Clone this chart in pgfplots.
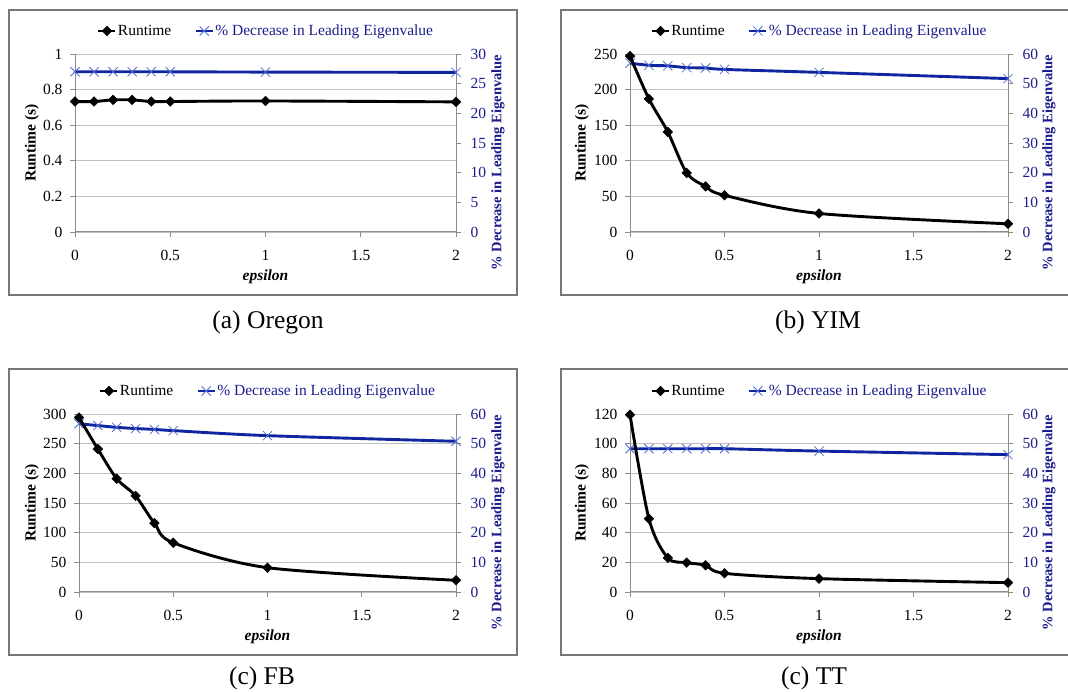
\documentclass[border=0pt]{standalone}
\usepackage{pgfplots}
\pgfplotsset{compat=1.18}
\usepackage{fontspec}
\setmainfont{Liberation Serif}
\definecolor{lineblue}{RGB}{16,38,160}
\definecolor{navy}{RGB}{28,28,140}
\definecolor{markblue}{RGB}{80,110,210}
\definecolor{gridgray}{RGB}{192,192,192}
\definecolor{axisgray}{RGB}{140,140,140}
\definecolor{framegray}{RGB}{120,120,120}
\newcommand{\fs}{\fontsize{15.5}{17}\selectfont}
\pgfplotsset{
  panel/.style={scale only axis, width=#1, height=178pt, xmin=0, xmax=2, clip=false,
    tick align=outside, major tick length=5pt,
    every tick/.style={axisgray, line width=0.8pt},
    axis line style={axisgray, line width=1pt},
    ticklabel style={font=\fs},
    /pgf/number format/assume math mode=true},
  leftax/.style={axis x line*=bottom, axis y line*=left, ymajorgrids,
    grid style={gridgray, line width=0.9pt},
    xtick={0,0.5,1,1.5,2}, ymin=0,
    xticklabel style={yshift=-10pt},
    yticklabel style={xshift=-4pt},
    xlabel={\textbf{\textit{epsilon}}},
    xlabel style={at={(axis description cs:0.5,-0.25)}, anchor=center, font=\fs},
    ylabel={\textbf{Runtime (s)}},
    ylabel style={at={(axis description cs:#1,0.5)}, anchor=center, font=\fs}},
  rightax/.style={axis y line*=right, axis x line=none, ymin=0, ymax=60, ytick distance=10,
    yticklabel style={text=navy, xshift=6pt},
    ylabel={\textbf{\% Decrease in Leading Eigenvalue}},
    ylabel style={at={(axis description cs:#1,0.39)}, anchor=center, text=navy, font=\fontsize{14.5}{16}\selectfont},
    legend columns=2,
    legend style={at={(axis description cs:0.5,1)}, anchor=center, yshift=23pt, draw=none, fill=none,
      font=\fs, nodes={inner xsep=1pt, inner ysep=2pt},
      /tikz/every even column/.append style={column sep=22pt}}},
  blackplot/.style={black, line width=2.9pt, smooth, mark=square*, mark size=3.4pt,
    mark options={rotate=45, solid, line width=0.5pt}},
  blueplot/.style={lineblue, line width=2.9pt, smooth, mark=x, mark size=6.5pt,
    mark options={markblue, line width=0.8pt}},
}
\begin{document}
\begin{tikzpicture}[x=1pt,y=1pt]
\path[use as bounding box] (0,0) rectangle (1068,692);
% frames
\draw[framegray, line width=1.3pt] (9,682) rectangle (517,397);
\draw[framegray, line width=1.3pt] (1075,682) -- (561,682) -- (561,397) -- (1075,397);
\draw[framegray, line width=1.3pt] (9,323) rectangle (517,37);
\draw[framegray, line width=1.3pt] (1075,323) -- (561,323) -- (561,37) -- (1075,37);

% ---------------- (a) Oregon ----------------
\begin{axis}[panel=381pt, leftax=-0.113, at={(75pt,460pt)}, anchor=south west,
  ymax=1, ytick={0,0.2,0.4,0.6,0.8,1}]
\end{axis}
\begin{axis}[panel=381pt, rightax=1.110, at={(75pt,460pt)}, anchor=south west,
  ymax=30, ytick distance=5]
\addlegendimage{blackplot}
\addlegendentry{Runtime}
\addplot[blueplot] coordinates {(0,27.0)(0.1,27.0)(0.2,27.0)(0.3,27.0)(0.4,27.0)(0.5,27.0)(1,26.95)(2,26.9)};
\addlegendentry{\textcolor{navy}{\% Decrease in Leading Eigenvalue}}
\end{axis}
\begin{axis}[panel=381pt, hide axis, at={(75pt,460pt)}, anchor=south west, ymin=0, ymax=1]
\addplot[blackplot] coordinates {(0,0.733)(0.1,0.733)(0.2,0.742)(0.3,0.742)(0.4,0.733)(0.5,0.733)(1,0.736)(2,0.731)};
\end{axis}

% ---------------- (b) YIM ----------------
\begin{axis}[panel=378pt, leftax=-0.127, at={(630pt,460pt)}, anchor=south west,
  ymax=250, ytick={0,50,100,150,200,250}]
\end{axis}
\begin{axis}[panel=378pt, rightax=1.108, at={(630pt,460pt)}, anchor=south west]
\addlegendimage{blackplot}
\addlegendentry{Runtime}
\addplot[blueplot] coordinates {(0,56.9)(0.1,56.2)(0.2,56.0)(0.3,55.4)(0.4,55.3)(0.5,54.8)(1,53.8)(2,51.7)};
\addlegendentry{\textcolor{navy}{\% Decrease in Leading Eigenvalue}}
\end{axis}
\begin{axis}[panel=378pt, hide axis, at={(630pt,460pt)}, anchor=south west, ymin=0, ymax=250]
\addplot[blackplot] coordinates {(0,247)(0.1,187)(0.2,140.5)(0.3,83)(0.4,64)(0.5,51.5)(1,26)(2,11.5)};
\end{axis}

% ---------------- (c) FB ----------------
\begin{axis}[panel=377pt, leftax=-0.125, at={(79pt,100pt)}, anchor=south west,
  ymax=300, ytick={0,50,100,150,200,250,300}]
\end{axis}
\begin{axis}[panel=377pt, rightax=1.111, at={(79pt,100pt)}, anchor=south west]
\addlegendimage{blackplot}
\addlegendentry{Runtime}
\addplot[blueplot] coordinates {(0,56.7)(0.1,56.1)(0.2,55.5)(0.3,55.1)(0.4,54.8)(0.5,54.4)(1,52.7)(2,50.8)};
\addlegendentry{\textcolor{navy}{\% Decrease in Leading Eigenvalue}}
\end{axis}
\begin{axis}[panel=377pt, hide axis, at={(79pt,100pt)}, anchor=south west, ymin=0, ymax=300]
\addplot[blackplot] coordinates {(0,294)(0.1,241)(0.2,191)(0.3,162)(0.4,116)(0.5,83)(1,41)(2,19.7)};
\end{axis}

% ---------------- (d) TT ----------------
\begin{axis}[panel=378pt, leftax=-0.127, at={(630pt,100pt)}, anchor=south west,
  ymax=120, ytick={0,20,40,60,80,100,120}]
\end{axis}
\begin{axis}[panel=378pt, rightax=1.108, at={(630pt,100pt)}, anchor=south west]
\addlegendimage{blackplot}
\addlegendentry{Runtime}
\addplot[blueplot] coordinates {(0,48.3)(0.1,48.3)(0.2,48.3)(0.3,48.3)(0.4,48.3)(0.5,48.3)(1,47.5)(2,46.3)};
\addlegendentry{\textcolor{navy}{\% Decrease in Leading Eigenvalue}}
\end{axis}
\begin{axis}[panel=378pt, hide axis, at={(630pt,100pt)}, anchor=south west, ymin=0, ymax=120]
\addplot[blackplot] coordinates {(0,119.5)(0.1,49.4)(0.2,23)(0.3,19.8)(0.4,18)(0.5,12.6)(1,9)(2,6.3)};
\end{axis}

% captions
\node[anchor=base, font=\fontsize{25.5}{28}\selectfont] at (268,363) {(a) Oregon};
\node[anchor=base, font=\fontsize{25.5}{28}\selectfont] at (818,363) {(b) YIM};
\node[anchor=base, font=\fontsize{25.5}{28}\selectfont] at (262,7) {(c) FB};
\node[anchor=base, font=\fontsize{25.5}{28}\selectfont] at (814,7) {(c) TT};
\end{tikzpicture}
\end{document}
